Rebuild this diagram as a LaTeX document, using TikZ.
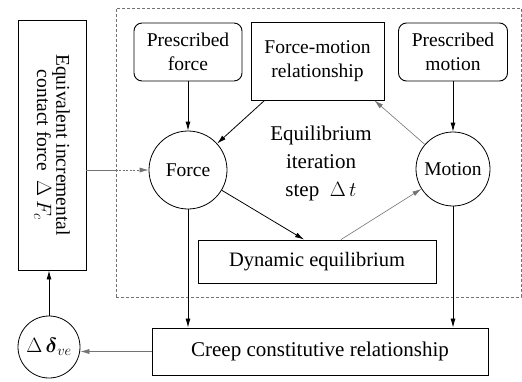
\documentclass[tikz,border=0pt]{standalone}
\usepackage{amsmath}
\usepackage{fontspec}
\setmainfont{Liberation Serif}
\usetikzlibrary{arrows.meta,positioning}

\begin{document}
\begin{tikzpicture}[x=1pt,y=-1pt,
        font=\fontsize{19.5}{24}\selectfont,
        box/.style={draw,line width=0.9pt,align=center,inner sep=0pt},
        rbox/.style={box,rounded corners=8pt},
        ball/.style={draw,circle,line width=0.8pt,inner sep=0pt},
        arr/.style={-{Latex[length=9pt,width=5pt]},line width=0.8pt},
        garr/.style={arr,draw=black!55,line width=0.6pt},
        ]
        \useasboundingbox (0,0) rectangle (522,381);
        \node[draw=black!55,dash pattern=on 3pt off 2pt,line width=0.6pt,minimum width=405,minimum height=289] (frame) at (318.5,152.5) {};
        \node[box,rotate=-90,minimum width=250,minimum height=68,font=\fontsize{19.5}{16}\selectfont] (eqf) at (52,145) {Equivalent incremental\\contact force \ $\Delta\,F_c$};
        \node[rbox,minimum width=108,minimum height=58] (pforce) at (188,52) {Prescribed\\force};
        \node[box,minimum width=133,minimum height=78] (fmrel) at (317.5,61) {Force-motion\\relationship};
        \node[rbox,minimum width=109,minimum height=58] (pmotion) at (453,52) {Prescribed\\motion};
        \node[ball,minimum size=78] (force) at (188,170) {Force};
        \node[ball,minimum size=74] (motion) at (453,169) {Motion};
        \node[align=center,font=\fontsize{21}{28}\selectfont] (eqit) at (321,163) {Equilibrium\\iteration\\step \ $\Delta\, t$};
        \node[box,minimum width=238,minimum height=43,font=\fontsize{20.5}{24}\selectfont] (dyneq) at (317,261.5) {Dynamic equilibrium};
        \node[box,minimum width=336,minimum height=47,font=\fontsize{21}{24}\selectfont] (creep) at (320,351.5) {Creep constitutive relationship};
        \node[ball,minimum size=62] (dve) at (49,347) {$\Delta\,\boldsymbol{\delta}_{ve}$};
        \coordinate (gate) at (frame.west |- force);
        % iteration loop
        \draw[arr] (pforce) -- (force);
        \draw[arr] ([xshift=14]fmrel.south west) -- (force);
        \draw[garr] (motion) -- ([xshift=-10]fmrel.south east);
        \draw[arr] (pmotion) -- (motion);
        \draw[arr] (force) -- ([xshift=-13]dyneq.north);
        \draw[garr] ([xshift=24]dyneq.north) -- (motion);
        % creep feedback
        \draw[arr] (force.south) -- (force.south |- creep.north);
        \draw[arr] (motion.south) -- (motion.south |- creep.north);
        \draw[garr] (creep.west) -- (creep.west -| dve.east);
        \draw[arr] (dve.north) -- (dve.north |- eqf.east);
        \draw[black!55,line width=0.6pt] (eqf.north |- force) -- (gate);
        \draw[garr,dash pattern=on 2pt off 1.5pt] (gate) -- (force);
\end{tikzpicture}
\end{document}
